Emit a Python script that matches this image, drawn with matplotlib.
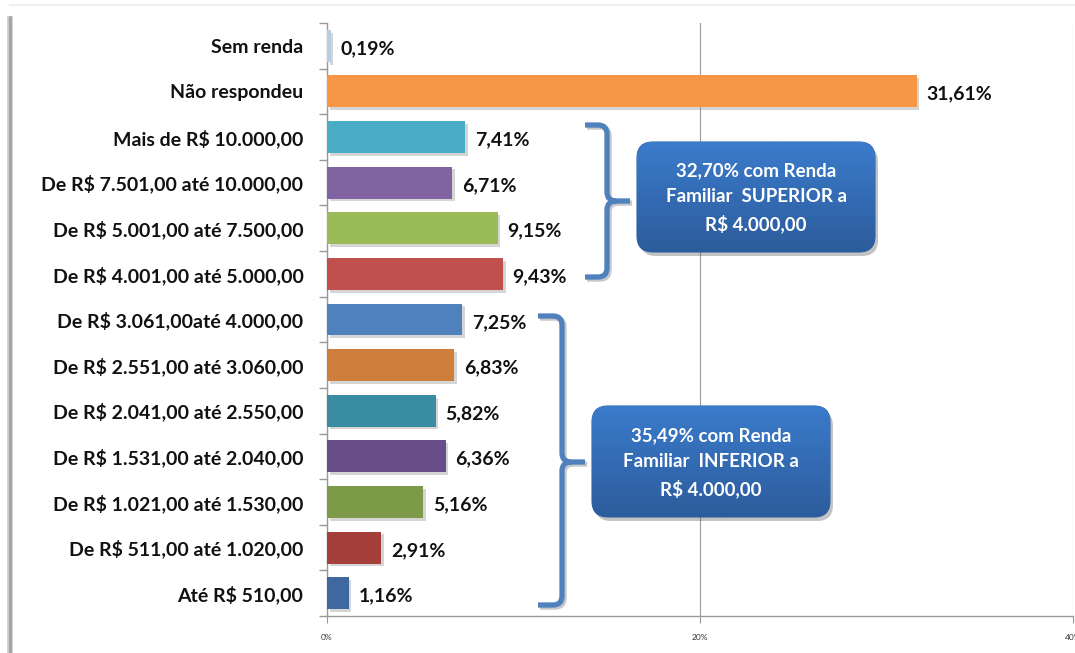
import numpy as np
import matplotlib
matplotlib.use("Agg")
import matplotlib.pyplot as plt
from matplotlib.patches import FancyBboxPatch, PathPatch
from matplotlib.path import Path
import matplotlib.patheffects as pe

plt.rcParams['font.family'] = ['Lato', 'DejaVu Sans']

# renda familiar, de cima para baixo
faixas = [
    "Sem renda",
    "Não respondeu",
    "Mais de R$ 10.000,00",
    "De R$ 7.501,00 até 10.000,00",
    "De R$ 5.001,00 até 7.500,00",
    "De R$ 4.001,00 até 5.000,00",
    "De R$ 3.061,00até 4.000,00",
    "De R$ 2.551,00 até 3.060,00",
    "De R$ 2.041,00 até 2.550,00",
    "De R$ 1.531,00 até 2.040,00",
    "De R$ 1.021,00 até 1.530,00",
    "De R$ 511,00 até 1.020,00",
    "Até R$ 510,00",
]
percentuais = [0.19, 31.61, 7.41, 6.71, 9.15, 9.43, 7.25, 6.83, 5.82, 6.36, 5.16, 2.91, 1.16]
cores = ["#b9cde5", "#f79646", "#4bacc6", "#8064a2", "#9bbb59", "#c0504d",
         "#4f81bd", "#cf7d3a", "#3a8ca2", "#674e89", "#7c9a47", "#a43f3c", "#3e689f"]
x_ticks = [0, 20, 40]
x_ticklabels = ["0%", "20%", "40%"]

superior = sum(percentuais[2:6])
inferior = sum(percentuais[6:])


def fmt(v):
    return f"{v:.2f}".replace(".", ",") + "%"


W, H = 1075, 653
fig = plt.figure(figsize=(W / 100, H / 100), dpi=100)
fig.patch.set_facecolor("white")

ax = fig.add_axes([327 / W, 1 - 616 / H, (1073 - 327) / W, (616 - 23) / H])
y = np.arange(len(faixas))
bars = ax.barh(y, percentuais, height=0.7, color=cores, zorder=3)
for b in bars:
    b.set_path_effects([pe.SimplePatchShadow(offset=(2, -2), shadow_rgbFace="#888888", alpha=0.35),
                        pe.Normal()])

for yi, v in zip(y, percentuais):
    ax.annotate(fmt(v), (v, yi), xytext=(7, -2), textcoords="offset points",
                ha="left", va="center", fontsize=14, fontweight="bold", color="#111111")

ax.set_ylim(len(faixas) - 0.5, -0.5)
ax.set_xlim(0, 40)
ax.set_yticks(y)
ax.set_yticklabels(faixas, fontsize=14, fontweight="bold", color="#111111")
ax.set_yticks(np.arange(len(faixas) + 1) - 0.5, minor=True)
ax.tick_params(axis="y", which="major", length=0, pad=17)
ax.tick_params(axis="y", which="minor", length=6, color="#999999", width=1)
ax.set_xticks(x_ticks)
ax.set_xticklabels(x_ticklabels, fontsize=6, color="#333333")
ax.tick_params(axis="x", length=5, color="#999999", pad=8)
ax.grid(axis="x", color="#9a9a9a", linewidth=0.8, zorder=0)
for s in ["top", "right"]:
    ax.spines[s].set_visible(False)
for s in ["left", "bottom"]:
    ax.spines[s].set_color("#999999")
    ax.spines[s].set_linewidth(1)

# camada em pixels para moldura, chaves e caixas
ov = fig.add_axes([0, 0, 1, 1], zorder=5)
ov.set_xlim(0, W)
ov.set_ylim(H, 0)
ov.axis("off")

# moldura com sombra
ov.plot([10, 10], [16, H], color="#c8c8c8", linewidth=4, solid_capstyle="butt")
ov.plot([10, 10], [16, H], color="#a0a0a0", linewidth=1.8, solid_capstyle="butt")
ov.plot([10, W], [5, 5], color="#f0f0f0", linewidth=1.5)


def chave(xe, xv, xt, y0, y1, ym, r=9):
    verts = [(xe, y0), (xv - r, y0), (xv, y0), (xv, y0 + r), (xv, ym - r), (xv, ym), (xv + r, ym),
             (xt, ym), (xv + r, ym), (xv, ym), (xv, ym + r), (xv, y1 - r), (xv, y1), (xv - r, y1),
             (xe, y1)]
    codes = [Path.MOVETO, Path.LINETO, Path.CURVE3, Path.CURVE3, Path.LINETO, Path.CURVE3, Path.CURVE3,
             Path.LINETO, Path.MOVETO, Path.CURVE3, Path.CURVE3, Path.LINETO, Path.CURVE3, Path.CURVE3,
             Path.LINETO]
    p = PathPatch(Path(verts, codes), facecolor="none", edgecolor="#4f81bd", linewidth=3.8,
                  capstyle="butt", joinstyle="round")
    p.set_path_effects([pe.SimpleLineShadow(offset=(1.5, -1.5), shadow_color="#777777", alpha=0.4),
                        pe.Normal()])
    ov.add_patch(p)


chave(585, 607, 630, 125, 277, 201)
chave(538, 562, 585, 316, 605, 462)

grad = np.linspace(0, 1, 100).reshape(-1, 1)
cmap = matplotlib.colors.LinearSegmentedColormap.from_list("azul", ["#3b7bcb", "#2c5c9c"])


def caixa(x0, y0, x1, y1, texto, r=16):
    sombra = FancyBboxPatch((x0 + r + 3, y0 + r + 4), x1 - x0 - 2 * r, y1 - y0 - 2 * r,
                            boxstyle=f"round,pad={r}", facecolor="#555555", edgecolor="none",
                            alpha=0.35)
    ov.add_patch(sombra)
    box = FancyBboxPatch((x0 + r, y0 + r), x1 - x0 - 2 * r, y1 - y0 - 2 * r,
                         boxstyle=f"round,pad={r}", facecolor="none", edgecolor="#2f63a8",
                         linewidth=0.8)
    ov.add_patch(box)
    im = ov.imshow(grad, cmap=cmap, extent=(x0, x1, y1, y0), aspect="auto", zorder=1)
    im.set_clip_path(box)
    ov.text((x0 + x1) / 2, (y0 + y1) / 2 + 1, texto, ha="center", va="center", color="white",
            fontsize=13.5, fontweight="bold", linespacing=1.6, zorder=3)


caixa(637, 142, 875, 252, f"{fmt(superior)} com Renda\nFamiliar  SUPERIOR a\nR$ 4.000,00")
caixa(592, 406, 830, 517, f"{fmt(inferior)} com Renda\nFamiliar  INFERIOR a\nR$ 4.000,00")
ov.set_xlim(0, W)
ov.set_ylim(H, 0)

fig.savefig("out.png", dpi=100)
